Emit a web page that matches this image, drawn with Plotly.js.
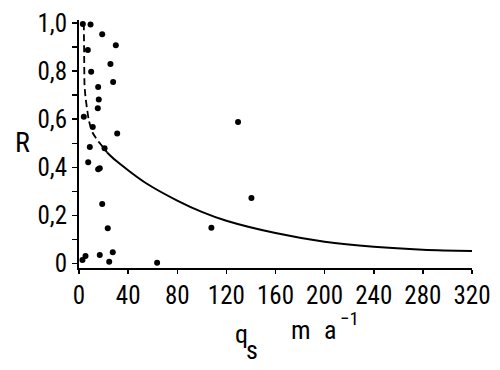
<!DOCTYPE html>
<html>
<head>
<meta charset="utf-8">
<script src="https://cdn.plot.ly/plotly-3.0.1.min.js"></script>
<style>html,body{margin:0;padding:0;background:#fff;}#chart{width:500px;height:370px;}</style>
</head>
<body>
<div id="chart"></div>
<script>
// Observed points (q_s in m a^-1, R)
var qsPoints = [3.1, 9.4, 18.9, 30.0, 7.2, 25.6, 9.9, 27.8, 15.6, 16.1, 15.3, 3.9, 11.2, 31.1, 8.8, 20.8, 7.5, 16.9, 15.6, 18.9, 23.4, 5.3, 16.9, 27.5, 24.6, 63.6, 2.8, 129.5, 140.4, 107.8];
var rPoints  = [0.995, 0.993, 0.953, 0.907, 0.887, 0.829, 0.797, 0.755, 0.734, 0.682, 0.645, 0.610, 0.568, 0.541, 0.485, 0.479, 0.421, 0.396, 0.392, 0.248, 0.147, 0.032, 0.036, 0.047, 0.008, 0.004, 0.015, 0.588, 0.273, 0.149];

// Fitted curve (upper dashed part and lower solid part)
var curveUpperQ = [3.9, 4.2, 4.5, 5.3, 6.7, 8.0, 10.7, 14.0, 17.5, 22.9];
var curveUpperR = [0.999, 0.87, 0.742, 0.692, 0.638, 0.596, 0.548, 0.520, 0.497, 0.462];
var curveLowerQ = [22.9, 30, 40, 55, 80, 100, 120, 160, 200, 240, 280, 320];
var curveLowerR = [0.462, 0.428, 0.388, 0.333, 0.262, 0.215, 0.178, 0.127, 0.091, 0.070, 0.058, 0.053];

// Tick labels
var xTickVals = [0, 40, 80, 120, 160, 200, 240, 280, 320];
var xTickText = ["0", "40", "80", "120", "160", "200", "240", "280", "320"];
var yTickVals = [0, 0.2, 0.4, 0.6, 0.8, 1.0];
var yTickText = ["0", "0,2", "0,4", "0,6", "0,8", "1,0"];

var FONT = "'Roboto Condensed', 'DejaVu Sans Condensed', sans-serif";

var traces = [
  {x: curveUpperQ, y: curveUpperR, mode: 'lines', type: 'scatter',
   line: {color: '#000', width: 1.8, dash: '7px,4px', shape: 'spline', smoothing: 0.8}, hoverinfo: 'skip'},
  {x: curveLowerQ, y: curveLowerR, mode: 'lines', type: 'scatter',
   line: {color: '#000', width: 2, shape: 'spline', smoothing: 1}, hoverinfo: 'skip'},
  {x: qsPoints, y: rPoints, mode: 'markers', type: 'scatter',
   marker: {color: '#000', size: 6}}
];

function px(v) { return (v - 79) / 393; }
function py(v) { return (268 - v) / 248; }

var layout = {
  width: 500, height: 370,
  margin: {l: 79, r: 28, t: 20, b: 102},
  paper_bgcolor: '#fff', plot_bgcolor: '#fff',
  showlegend: false,
  font: {family: FONT, color: '#000', size: 25},
  xaxis: {
    range: [0, 320], tickvals: xTickVals, ticktext: xTickText,
    showgrid: false, zeroline: false, showline: true, linecolor: '#000', linewidth: 2,
    ticks: 'outside', ticklen: 4, tickwidth: 1.5, tickcolor: '#000',
    tickfont: {family: FONT, size: 25, color: '#000'}
  },
  yaxis: {
    range: [-0.018, 1.012], tickvals: yTickVals, ticktext: yTickText,
    showgrid: false, zeroline: false, showline: true, linecolor: '#000', linewidth: 2,
    ticks: 'outside', ticklen: 5, tickwidth: 1.5, tickcolor: '#000',
    minor: {dtick: 0.1, tick0: 0, ticks: 'outside', ticklen: 5, tickwidth: 1.5, tickcolor: '#000'},
    tickfont: {family: FONT, size: 25, color: '#000'}
  },
  annotations: [
    {text: 'R', xref: 'paper', yref: 'paper', x: px(22), y: py(142), xanchor: 'center', yanchor: 'middle', showarrow: false, font: {family: FONT, size: 28, color: '#000'}},
    {text: 'q', xref: 'paper', yref: 'paper', x: px(241), y: py(334), xanchor: 'center', yanchor: 'middle', showarrow: false, font: {family: FONT, size: 26, color: '#000'}},
    {text: 's', xref: 'paper', yref: 'paper', x: px(252), y: py(350), xanchor: 'center', yanchor: 'middle', showarrow: false, font: {family: FONT, size: 26, color: '#000'}},
    {text: 'm', xref: 'paper', yref: 'paper', x: px(301), y: py(330), xanchor: 'center', yanchor: 'middle', showarrow: false, font: {family: FONT, size: 26, color: '#000'}},
    {text: 'a', xref: 'paper', yref: 'paper', x: px(330), y: py(330), xanchor: 'center', yanchor: 'middle', showarrow: false, font: {family: FONT, size: 26, color: '#000'}},
    {text: '−1', xref: 'paper', yref: 'paper', x: px(349), y: py(318), xanchor: 'center', yanchor: 'middle', showarrow: false, font: {family: FONT, size: 19, color: '#000'}}
  ]
};

Plotly.newPlot('chart', traces, layout, {displayModeBar: false, staticPlot: true});
</script>
</body>
</html>
